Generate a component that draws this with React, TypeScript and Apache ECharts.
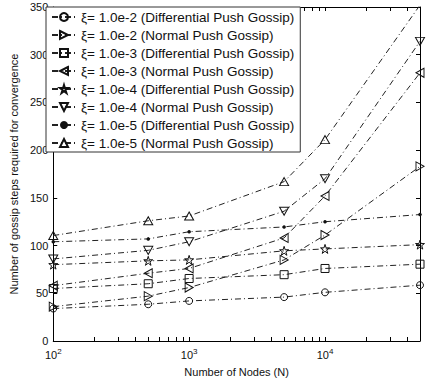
import React, { useEffect, useRef } from 'react';
import * as echarts from 'echarts';

const nodes = [100, 500, 1000, 5000, 10000, 50000];
const seriesNames = [
  'ξ= 1.0e-2 (Differential Push Gossip)',
  'ξ= 1.0e-2 (Normal Push Gossip)',
  'ξ= 1.0e-3 (Differential Push Gossip)',
  'ξ= 1.0e-3 (Normal Push Gossip)',
  'ξ= 1.0e-4 (Differential Push Gossip)',
  'ξ= 1.0e-4 (Normal Push Gossip)',
  'ξ= 1.0e-5 (Differential Push Gossip)',
  'ξ= 1.0e-5 (Normal Push Gossip)',
];
const diff1e2 = [34, 38.5, 42, 46, 51, 58.5];
const norm1e2 = [36, 47, 56, 85, 111, 183];
const diff1e3 = [55, 60, 65.5, 69.5, 76, 80.5];
const norm1e3 = [58, 71, 76, 108, 152, 281];
const diff1e4 = [80, 84, 85, 94.5, 96.5, 101];
const norm1e4 = [86, 95, 104, 136, 170, 314];
const diff1e5 = [104, 107, 114.5, 119.5, 125, 132.5];
const norm1e5 = [110.5, 126, 131, 167, 211, 352];
const xTickValues = [100, 200, 300, 400, 500, 600, 700, 800, 900, 1000, 2000, 3000, 4000, 5000, 6000, 7000, 8000, 9000, 10000, 20000, 30000, 40000];
const xLabelValues = [100, 1000, 10000];

const allValues = [diff1e2, norm1e2, diff1e3, norm1e3, diff1e4, norm1e4, diff1e5, norm1e5];

const S_RIGHT = 'path://M0,0L10,5L0,10Z';
const S_LEFT = 'path://M10,0L0,5L10,10Z';
const S_DOWN = 'path://M0,0L10,0L5,9Z';
const S_UP = 'path://M5,0L10,9L0,9Z';
const S_STAR = 'path://M10,0L12.25,6.91L19.51,6.91L13.63,11.18L15.88,18.09L10,13.82L4.12,18.09L6.37,11.18L0.49,6.91L7.75,6.91Z';

const symbols: any[] = [
  ['circle', 7],
  [S_RIGHT, [8, 9]],
  ['rect', 8],
  [S_LEFT, [8, 9]],
  [S_STAR, 9],
  [S_DOWN, [9, 8]],
  ['circle', 3.5],
  [S_UP, [9, 8]],
];

export default function App() {
  const ref = useRef<HTMLDivElement>(null);
  useEffect(() => {
    if (!ref.current) return;
    const chart = echarts.init(ref.current, undefined, { renderer: 'svg' });
    const font = 'Liberation Sans, Arial, sans-serif';
    const ink = '#111';
    const series = allValues.map((vals, i) => ({
      name: seriesNames[i],
      type: 'line',
      data: nodes.map((n, j) => [n, vals[j]]),
      symbol: symbols[i][0],
      symbolSize: symbols[i][1],
      showAllSymbol: true,
      clip: true,
      lineStyle: { color: '#222', width: 1, type: [6, 3, 1, 3] },
      itemStyle: i === 6
        ? { color: ink, borderColor: ink, borderWidth: 0 }
        : { color: 'rgba(0,0,0,0)', borderColor: ink, borderWidth: 1 },
      emphasis: { disabled: true },
    }));
    const tickCommon = { show: true, inside: true, length: 4, lineStyle: { color: '#000', width: 1 } };
    chart.setOption({
      animation: false,
      backgroundColor: '#fff',
      grid: { left: 46, right: 16, top: 7, bottom: 39, containLabel: false },
      legend: {
        orient: 'vertical',
        left: 46,
        top: 7,
        padding: [3, 6, 2, 5],
        itemWidth: 24,
        itemHeight: 10,
        itemGap: 4,
        backgroundColor: '#fff',
        borderColor: '#333',
        borderWidth: 1,
        borderRadius: 0,
        textStyle: { fontFamily: font, fontSize: 13.5, lineHeight: 12, color: ink },
        data: seriesNames,
      },
      xAxis: [
        {
          type: 'log',
          logBase: 10,
          min: 100,
          max: 50000,
          position: 'bottom',
          name: 'Number of Nodes (N)',
          nameLocation: 'middle',
          nameGap: 25,
          nameTextStyle: { fontFamily: font, fontSize: 11, color: ink },
          axisLine: { show: true, onZero: false, lineStyle: { color: '#000', width: 1 } },
          axisTick: { ...tickCommon, customValues: xTickValues },
          axisLabel: {
            customValues: xLabelValues,
            margin: 6,
            fontFamily: font,
            fontSize: 11,
            color: ink,
            formatter: (v: number) => '10{sup|' + Math.round(Math.log10(v)) + '}',
            rich: { sup: { fontFamily: font, fontSize: 8, color: ink, verticalAlign: 'bottom', padding: [0, 0, 7, 0] } },
          },
          splitLine: { show: false },
        },
        {
          type: 'log',
          logBase: 10,
          min: 100,
          max: 50000,
          position: 'top',
          axisLine: { show: true, onZero: false, lineStyle: { color: '#000', width: 1 } },
          axisTick: { ...tickCommon, customValues: xTickValues },
          axisLabel: { show: false },
          splitLine: { show: false },
        },
      ],
      yAxis: [
        {
          type: 'value',
          min: 0,
          max: 350,
          interval: 50,
          position: 'left',
          name: 'Number of gossip steps required for convergence',
          nameLocation: 'middle',
          nameGap: 33,
          nameTextStyle: { fontFamily: font, fontSize: 11, color: ink },
          axisLine: { show: true, lineStyle: { color: '#000', width: 1 } },
          axisTick: tickCommon,
          axisLabel: { margin: 5, fontFamily: font, fontSize: 11, color: ink },
          splitLine: { show: false },
        },
        {
          type: 'value',
          min: 0,
          max: 350,
          interval: 50,
          position: 'right',
          axisLine: { show: true, lineStyle: { color: '#000', width: 1 } },
          axisTick: tickCommon,
          axisLabel: { show: false },
          splitLine: { show: false },
        },
      ],
      series,
    });
    return () => chart.dispose();
  }, []);
  return <div ref={ref} style={{ width: 436, height: 382, position: 'absolute', left: 0, top: 0 }} />;
}
